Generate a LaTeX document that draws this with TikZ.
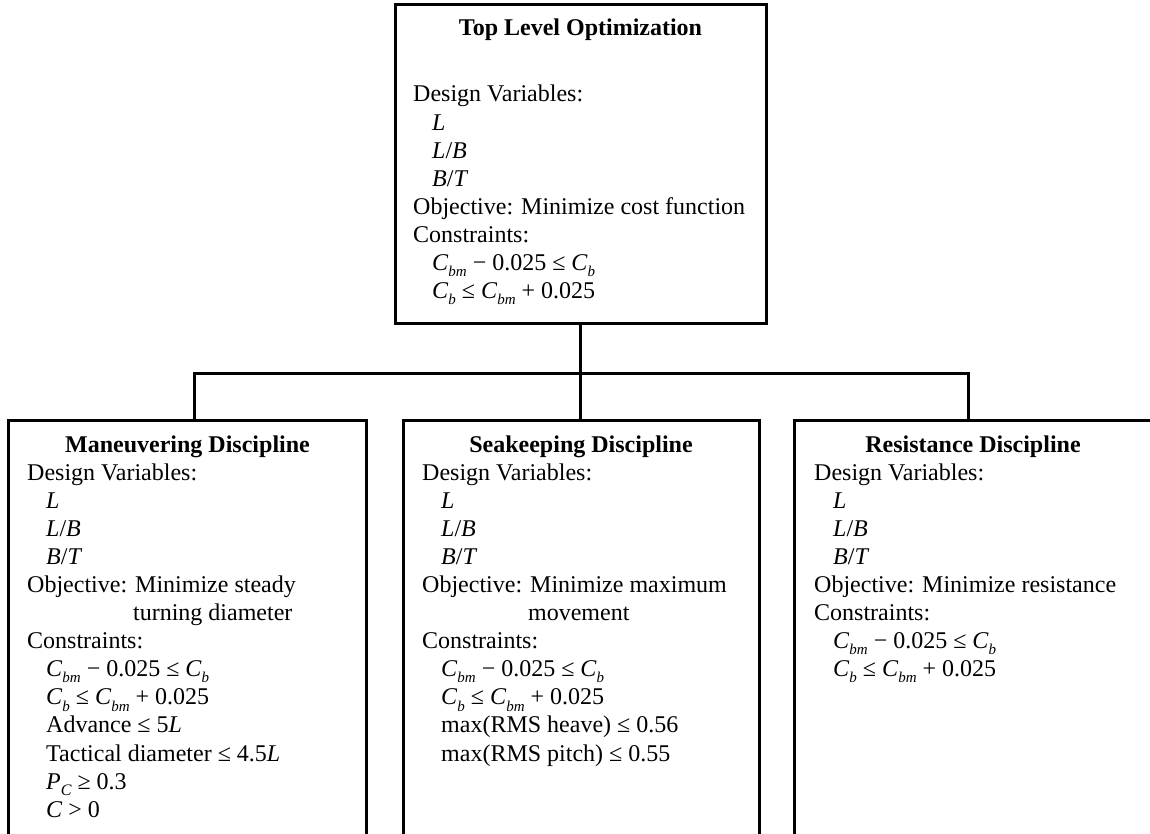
\documentclass[tikz,border=0pt]{standalone}
\usepackage{fontspec}
\setmainfont{Liberation Serif}
\newcommand\mysub[3][-0.26em]{\raisebox{#1}{\fontsize{#2}{#2}\selectfont\itshape #3}}
\newcommand\vCbm{\textit{C}\mysub{15}{bm}}
\newcommand\vCb{\textit{C}\mysub{15}{b}}
\newcommand\vL{\textit{L}}
\newcommand\ind{\hspace*{19pt}}
\tikzset{
  boxline/.style={draw, line width=3pt, inner sep=0pt, outer sep=0pt, rectangle, anchor=north west},
  link/.style={line width=3pt},
  titletext/.style={font=\fontsize{24}{28.1}\selectfont\bfseries, anchor=base, inner sep=0pt},
  bodytext/.style={font=\fontsize{24}{28.1}\selectfont, anchor=base west, inner sep=0pt},
}
\begin{document}
\begin{tikzpicture}
\useasboundingbox (0pt,0pt) rectangle (1150pt,-834pt);
\clip (0pt,0pt) rectangle (1150pt,-834pt);
% boxes
\node[boxline, minimum width=371pt, minimum height=318pt] (top) at (395pt,-5pt) {};
\node[boxline, minimum width=358.5pt, minimum height=500pt] (left) at (8pt,-420pt) {};
\node[boxline, minimum width=356.5pt, minimum height=500pt] (mid) at (403pt,-420pt) {};
\node[boxline, minimum width=358pt, minimum height=500pt] (right) at (794pt,-420pt) {};
% connectors
\coordinate (jl) at (194pt,-373pt);
\coordinate (jr) at (968pt,-373pt);
\coordinate (jm) at (top.south |- jl);
\draw[link] (top.south) -- (jm);
\draw[link] (left.north -| jl) -- (jl) -- (jr) -- (right.north -| jr);
\draw[link] (jm) -- (mid.north -| jm);
% titles
\node[titletext] (ttop) at (580.5pt,-36pt) {Top Level Optimization};
\node[titletext] (tleft) at (187.5pt,-452pt) {Maneuvering Discipline};
\node[titletext] (tmid) at (581pt,-452pt) {Seakeeping Discipline};
\node[titletext] (tright) at (973pt,-452pt) {Resistance Discipline};
% bodies
\node[bodytext] (btop) at (413pt,-102pt) {\parbox[t]{360pt}{%
Design Variables:\\
\ind\vL\\
\ind\vL/\textit{B}\\
\ind\textit{B}/\textit{T}\\
Objective: Minimize cost function\\
Constraints:\\
\ind\vCbm{} − 0.025 ≤ \vCb\\
\ind\vCb{} ≤ \vCbm{} + 0.025}};
\node[bodytext] (bleft) at (27pt,-480pt) {\parbox[t]{340pt}{%
Design Variables:\\
\ind\vL\\
\ind\vL/\textit{B}\\
\ind\textit{B}/\textit{T}\\
Objective: Minimize steady\\
\hphantom{Objective:\ }turning diameter\\
Constraints:\\
\ind\vCbm{} − 0.025 ≤ \vCb\\
\ind\vCb{} ≤ \vCbm{} + 0.025\\
\ind Advance ≤ 5\vL\\
\ind Tactical diameter ≤ 4.5\vL\\
\ind\textit{P}\mysub[-0.27em]{16}{C} ≥ 0.3\\
\ind\textit{C} > 0}};
\node[bodytext] (bmid) at (422pt,-480pt) {\parbox[t]{330pt}{%
Design Variables:\\
\ind\vL\\
\ind\vL/\textit{B}\\
\ind\textit{B}/\textit{T}\\
Objective: Minimize maximum\\
\hphantom{Objective:\ }movement\\
Constraints:\\
\ind\vCbm{} − 0.025 ≤ \vCb\\
\ind\vCb{} ≤ \vCbm{} + 0.025\\
\ind max(RMS heave) ≤ 0.56\\
\ind max(RMS pitch) ≤ 0.55}};
\node[bodytext] (bright) at (814pt,-480pt) {\parbox[t]{330pt}{%
Design Variables:\\
\ind\vL\\
\ind\vL/\textit{B}\\
\ind\textit{B}/\textit{T}\\
Objective: Minimize resistance\\
Constraints:\\
\ind\vCbm{} − 0.025 ≤ \vCb\\
\ind\vCb{} ≤ \vCbm{} + 0.025}};
\end{tikzpicture}
\end{document}
